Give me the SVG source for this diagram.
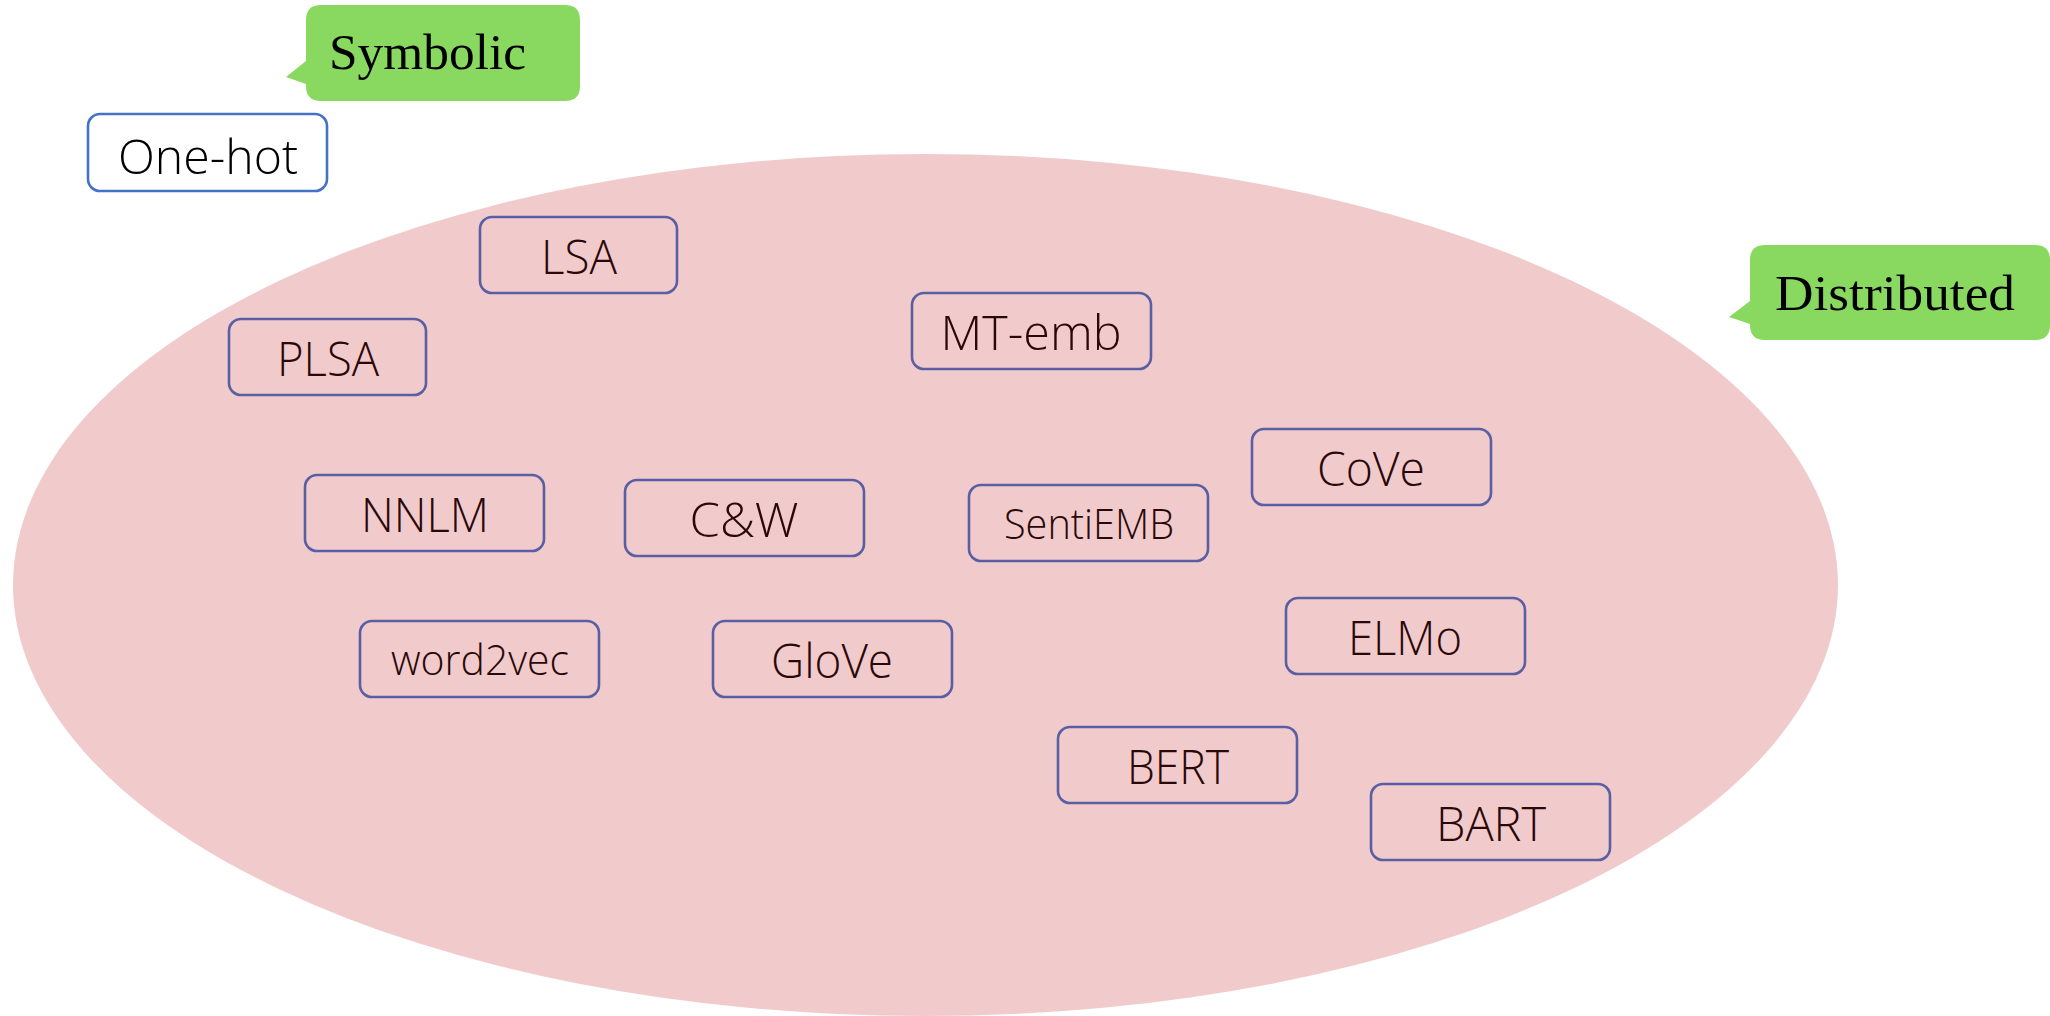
<svg xmlns="http://www.w3.org/2000/svg" width="2050" height="1016" viewBox="0 0 2050 1016">
  <style>
    .region { fill: #f1cbcc; }
    .node rect { fill: none; stroke: #5a5fa3; stroke-width: 2.6; }
    .node text { font-family: "Open Sans", "Noto Sans", "Liberation Sans", sans-serif; font-weight: 300; font-size: 48px; fill: #2a0808; text-anchor: middle; }
    .node text.sm { font-size: 42px; }
    .plain rect { fill: #ffffff; stroke: #4472c4; }
    .plain text { fill: #000000; }
    .callout path { fill: #89d961; }
    .callout text { font-family: "Liberation Serif", "DejaVu Serif", serif; font-size: 50px; fill: #000000; }
  </style>

  <!-- distributed representation region -->
  <ellipse class="region" cx="925.5" cy="585" rx="912.5" ry="431"/>

  <!-- category callouts -->
  <g id="symbolic" class="callout">
    <path d="M321 5 H565 Q580 5 580 20 V86 Q580 101 565 101 H321 Q306 101 306 86 V84 L286 77 L306 61 V20 Q306 5 321 5 Z"/>
    <text x="329" y="69" textLength="197" lengthAdjust="spacingAndGlyphs">Symbolic</text>
  </g>
  <g id="distributed" class="callout">
    <path d="M1765 245 H2035 Q2050 245 2050 260 V325 Q2050 340 2035 340 H1765 Q1750 340 1750 325 V324 L1729 317 L1750 301 V260 Q1750 245 1765 245 Z"/>
    <text x="1775" y="310" textLength="240" lengthAdjust="spacingAndGlyphs">Distributed</text>
  </g>

  <!-- nodes -->
  <g id="one-hot" class="node plain">
    <rect x="88" y="114" width="239" height="77" rx="12"/>
    <text x="208" y="174" textLength="180" lengthAdjust="spacingAndGlyphs">One-hot</text>
  </g>
  <g id="lsa" class="node">
    <rect x="480" y="217" width="197" height="76" rx="12"/>
    <text x="579" y="274" textLength="76" lengthAdjust="spacingAndGlyphs">LSA</text>
  </g>
  <g id="plsa" class="node">
    <rect x="229" y="319" width="197" height="76" rx="12"/>
    <text x="328" y="376" textLength="102" lengthAdjust="spacingAndGlyphs">PLSA</text>
  </g>
  <g id="mt-emb" class="node">
    <rect x="912" y="293" width="239" height="76" rx="12"/>
    <text x="1031" y="350" textLength="181" lengthAdjust="spacingAndGlyphs">MT-emb</text>
  </g>
  <g id="cove" class="node">
    <rect x="1252" y="429" width="239" height="76" rx="12"/>
    <text x="1371" y="486" textLength="108" lengthAdjust="spacingAndGlyphs">CoVe</text>
  </g>
  <g id="nnlm" class="node">
    <rect x="305" y="475" width="239" height="76" rx="12"/>
    <text x="425" y="532" textLength="128" lengthAdjust="spacingAndGlyphs">NNLM</text>
  </g>
  <g id="cw" class="node">
    <rect x="625" y="480" width="239" height="76" rx="12"/>
    <text x="744" y="537" textLength="109" lengthAdjust="spacingAndGlyphs">C&amp;W</text>
  </g>
  <g id="sentiemb" class="node">
    <rect x="969" y="485" width="239" height="76" rx="12"/>
    <text class="sm" x="1089" y="539" textLength="170" lengthAdjust="spacingAndGlyphs">SentiEMB</text>
  </g>
  <g id="word2vec" class="node">
    <rect x="360" y="621" width="239" height="76" rx="12"/>
    <text class="sm" x="480" y="675" textLength="178" lengthAdjust="spacingAndGlyphs">word2vec</text>
  </g>
  <g id="glove" class="node">
    <rect x="713" y="621" width="239" height="76" rx="12"/>
    <text x="832" y="678" textLength="122" lengthAdjust="spacingAndGlyphs">GloVe</text>
  </g>
  <g id="elmo" class="node">
    <rect x="1286" y="598" width="239" height="76" rx="12"/>
    <text x="1405" y="655" textLength="114" lengthAdjust="spacingAndGlyphs">ELMo</text>
  </g>
  <g id="bert" class="node">
    <rect x="1058" y="727" width="239" height="76" rx="12"/>
    <text x="1178" y="784" textLength="102" lengthAdjust="spacingAndGlyphs">BERT</text>
  </g>
  <g id="bart" class="node">
    <rect x="1371" y="784" width="239" height="76" rx="12"/>
    <text x="1491" y="841" textLength="110" lengthAdjust="spacingAndGlyphs">BART</text>
  </g>

  <!-- connectors: none drawn -->
  <g id="connectors"/>
</svg>
